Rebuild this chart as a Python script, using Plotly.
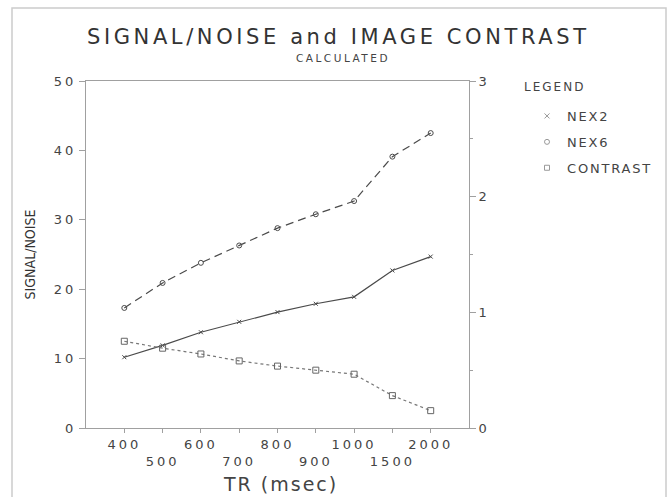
import plotly.graph_objects as go

tr = ["400", "500", "600", "700", "800", "900", "1000", "1500", "2000"]
nex2 = [10.2, 11.9, 13.8, 15.3, 16.7, 17.9, 18.9, 22.7, 24.7]
nex6 = [17.3, 20.9, 23.8, 26.3, 28.8, 30.8, 32.7, 39.1, 42.5]
contrast = [0.75, 0.69, 0.64, 0.58, 0.535, 0.50, 0.465, 0.28, 0.15]
left_ticks = [0, 10, 20, 30, 40, 50]
right_ticks = [0, 1, 2, 3]

FONT = "DejaVu Sans"
TXT = "#444444"
LINE = "#4a4a4a"
AX = "#a0a0a0"


def ls(t, sp):
    return f'<span style="letter-spacing:{sp}px">{t}</span>'


tick_text = [ls(t, 3) if i % 2 == 0 else "<br>" + ls(t, 3) for i, t in enumerate(tr)]

fig = go.Figure()
fig.add_trace(go.Scatter(x=tr, y=nex2, mode="lines+markers", name="NEX2",
                         line=dict(color=LINE, width=1.2),
                         marker=dict(symbol="x-thin", size=4, line=dict(color=LINE, width=1)),
                         showlegend=False))
fig.add_trace(go.Scatter(x=tr, y=nex6, mode="lines+markers", name="NEX6",
                         line=dict(color=LINE, width=1.2, dash="8px,5px"),
                         marker=dict(symbol="circle-open", size=5, color=LINE, line=dict(width=1)),
                         showlegend=False))
fig.add_trace(go.Scatter(x=tr, y=contrast, mode="lines+markers", name="CONTRAST", yaxis="y2",
                         line=dict(color="#777777", width=1.2, dash="dot"),
                         marker=dict(symbol="square-open", size=6, color="#666666", line=dict(width=1)),
                         showlegend=False))
# legend entries (markers only)
for nm, sym in [("NEX2", "x-thin"), ("NEX6", "circle-open"), ("CONTRAST", "square-open")]:
    fig.add_trace(go.Scatter(x=[None], y=[None], mode="markers", name=ls(nm, 1.8), legendgroup=nm,
                             marker=dict(symbol=sym, size=5, color="#999999", line=dict(width=1, color="#999999"))))

W, H = 670, 497
L, R, T, B = 86, 201, 81, 69
pw, ph = W - L - R, H - T - B
def px(x): return (x - L) / pw
def py(y): return (H - B - y) / ph

fig.update_layout(
    width=W, height=H,
    margin=dict(l=L, r=R, t=T, b=B),
    paper_bgcolor="white", plot_bgcolor="white",
    font=dict(family=FONT, color=TXT),
    showlegend=True,
    legend=dict(x=px(527), y=py(101), xanchor="left", yanchor="top",
                font=dict(size=13, color=TXT), bgcolor="rgba(0,0,0,0)",
                traceorder="grouped", tracegroupgap=6, itemwidth=30),
    xaxis=dict(type="category", range=[-1, 9], tickvals=tr, ticktext=tick_text,
               showline=True, linecolor=AX, linewidth=1, mirror=True,
               ticks="outside", ticklen=4, tickcolor=AX, showgrid=False, zeroline=False,
               tickfont=dict(size=13, color=TXT), tickangle=0),
    yaxis=dict(range=[0, 50], tickvals=left_ticks, ticktext=[ls(v, 3) for v in left_ticks],
               showline=True, linecolor=AX, linewidth=1,
               ticks="outside", ticklen=6, tickcolor=AX, showgrid=False, zeroline=False,
               tickfont=dict(size=13, color=TXT),
               title=dict(text="SIGNAL/NOISE",
                          font=dict(family="Liberation Sans Narrow, DejaVu Sans Condensed", size=14, color="#333333"),
                          standoff=14)),
    yaxis2=dict(range=[0, 3], overlaying="y", side="right", tickvals=right_ticks,
                ticktext=[ls(v, 3) for v in right_ticks],
                showline=True, linecolor=AX, linewidth=1,
                ticks="outside", ticklen=6, tickcolor=AX, showgrid=False, zeroline=False,
                minor=dict(dtick=0.5, ticks="outside", ticklen=3, tickcolor=AX),
                tickfont=dict(size=13, color=TXT)),
    annotations=[
        dict(text=ls("SIGNAL/NOISE and IMAGE CONTRAST", 3.6), x=px(338), y=py(37.5), xref="paper", yref="paper",
             xanchor="center", yanchor="middle", showarrow=False, font=dict(size=21, color="#333333")),
        dict(text=ls("CALCULATED", 2.5), x=px(343), y=py(58), xref="paper", yref="paper",
             xanchor="center", yanchor="middle", showarrow=False, font=dict(size=10.5, color=TXT)),
        dict(text=ls("TR (msec)", 2), x=px(280), y=py(484), xref="paper", yref="paper",
             xanchor="center", yanchor="middle", showarrow=False, font=dict(size=19, color=TXT)),
        dict(text=ls("LEGEND", 2), x=px(522), y=py(87), xref="paper", yref="paper",
             xanchor="left", yanchor="middle", showarrow=False, font=dict(size=12, color=TXT)),
    ],
)

fig.add_shape(type="rect", xref="paper", yref="paper", x0=px(12), x1=px(666), y0=py(505), y1=py(8),
              line=dict(color="#cccccc", width=1.5), fillcolor="rgba(0,0,0,0)", layer="below")

fig.write_html("out.html")
